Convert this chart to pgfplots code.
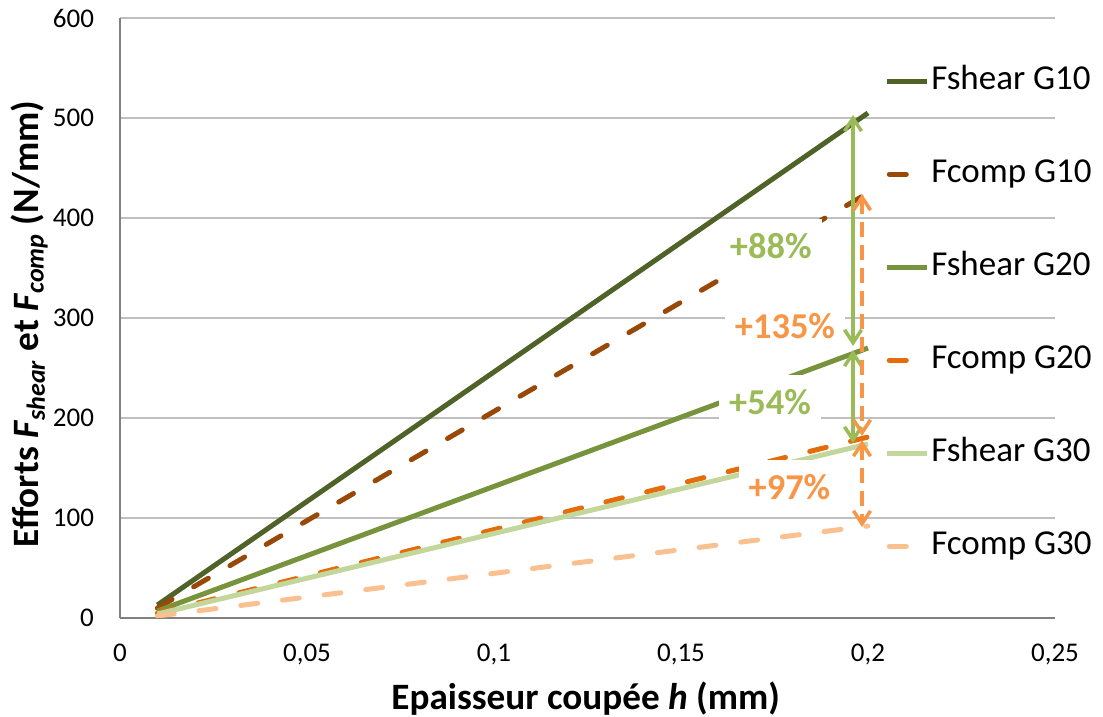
\documentclass[border=0pt]{standalone}
\usepackage{pgfplots}
\pgfplotsset{compat=1.18}
\usepackage{fontspec}
\setmainfont{Carlito}
\usetikzlibrary{arrows.meta}
\definecolor{cA}{HTML}{4F6228}
\definecolor{cB}{HTML}{984807}
\definecolor{cC}{HTML}{77933C}
\definecolor{cD}{HTML}{E46C0A}
\definecolor{cE}{HTML}{C3D69B}
\definecolor{cF}{HTML}{FAC090}
\definecolor{agreen}{HTML}{9BBB59}
\definecolor{aorange}{HTML}{F79646}
\definecolor{gridc}{HTML}{BFBFBF}
\tikzset{
  annot/.style={fill=white, font=\bfseries\fontsize{18.2}{21}\selectfont, inner xsep=5pt, inner ysep=7pt},
  arr/.style={line width=1.75pt, {Straight Barb[length=6.5pt,width=8.5pt]}-{Straight Barb[length=6.5pt,width=8.5pt]}},
}
\pgfplotsset{
  solidleg/.style={legend image code/.code={\draw[##1] (0pt,0pt) -- (20pt,0pt);}},
  dashleg/.style={legend image code/.code={\draw[##1] (1.25pt,0pt) -- (9.75pt,0pt);}},
}
\begin{document}
\begin{tikzpicture}
\useasboundingbox (0,0) rectangle (551.5pt,358.5pt);
\begin{axis}[
  at={(60pt,49.5pt)}, anchor=south west,
  scale only axis, width=467.5pt, height=300pt,
  xmin=0, xmax=0.25, ymin=0, ymax=600,
  axis x line=bottom, axis y line=left,
  axis line style={-, draw=gray, line width=0.75pt},
  xtick={0,0.05,0.1,0.15,0.2,0.25},
  xticklabels={0,{0,05},{0,1},{0,15},{0,2},{0,25}},
  ytick={0,100,200,300,400,500,600},
  major tick length=0pt,
  ymajorgrids, major grid style={draw=gridc, line width=0.75pt},
  /pgf/number format/assume math mode=true,
  tick label style={font=\fontsize{13.5}{16}\selectfont, text=black},
  xticklabel style={yshift=-9.5pt},
  yticklabel style={xshift=-9.5pt},
  xlabel={\textbf{Epaisseur coupée \textit{h} (mm)}},
  ylabel={\textbf{Efforts \textit{F}\textsubscript{\textit{shear}} et \textit{F}\textsubscript{\textit{comp}} (N/mm)}},
  label style={font=\fontsize{18.6}{22}\selectfont},
  xlabel style={at={(axis description cs:0.498,-0.134)}, anchor=center},
  ylabel style={at={(axis description cs:-0.097,0.49)}, anchor=center},
  legend style={draw=none, fill=none, at={(0.817,0.921)}, anchor=north west,
    inner sep=0pt, row sep=31pt, font=\fontsize{17.5}{20}\selectfont,
    nodes={inner ysep=0pt, inner xsep=1pt, text height=12pt, text depth=3.5pt}},
  legend cell align=left,
]
\addplot[cA, line width=2.5pt, solidleg]
  coordinates {(0.01,13) (0.2,505)};
\addlegendentry{Fshear G10}
\addplot[cB, line width=2.5pt, line cap=round, dash pattern=on 8.5pt off 12.5pt, dashleg]
  coordinates {(0.01,10) (0.2,425)};
\addlegendentry{Fcomp G10}
\addplot[cC, line width=2.5pt, solidleg]
  coordinates {(0.01,7) (0.2,270)};
\addlegendentry{Fshear G20}
\addplot[cD, line width=2.5pt, line cap=round, dash pattern=on 8.5pt off 12.5pt, dashleg]
  coordinates {(0.01,5) (0.2,181)};
\addlegendentry{Fcomp G20}
\addplot[cE, line width=2.5pt, solidleg]
  coordinates {(0.01,4) (0.2,174)};
\addlegendentry{Fshear G30}
\addplot[cF, line width=2.5pt, line cap=round, dash pattern=on 8.5pt off 12.5pt, dashleg]
  coordinates {(0.01,2) (0.2,92)};
\addlegendentry{Fcomp G30}
\node[annot, text=agreen] at (axis cs:0.174,372) {+88\%};
\node[annot, text=aorange] at (axis cs:0.1778,292) {+135\%};
\node[annot, text=agreen] at (axis cs:0.1738,216) {+54\%};
\node[annot, text=aorange] at (axis cs:0.179,131) {+97\%};
\addplot[agreen, arr, forget plot] coordinates {(0.196,503) (0.196,272)};
\addplot[agreen, arr, forget plot] coordinates {(0.196,268) (0.196,175)};
\addplot[aorange, arr, forget plot, dash pattern=on 7.5pt off 4pt] coordinates {(0.1984,424) (0.1984,182)};
\addplot[aorange, arr, forget plot, dash pattern=on 7.5pt off 4pt] coordinates {(0.1984,178) (0.1984,91)};
\end{axis}
\end{tikzpicture}
\end{document}
